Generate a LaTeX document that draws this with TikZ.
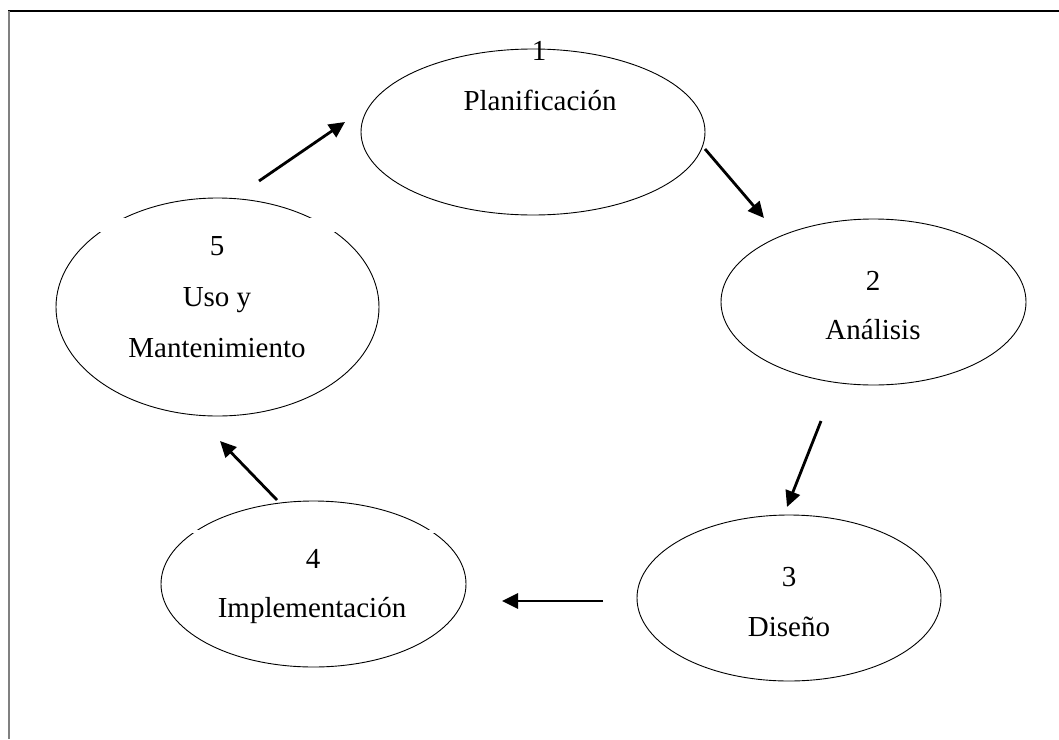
\documentclass[tikz,border=0pt]{standalone}
\usepackage{fontspec}
\setmainfont{Liberation Serif}
\usetikzlibrary{arrows.meta,shapes.geometric}
\begin{document}
\begin{tikzpicture}[x=1pt,y=-1pt,
  phase/.style={ellipse, draw, line width=0.9pt, inner sep=0pt},
  lbl/.style={anchor=base, font=\fontsize{29}{35}\selectfont, inner sep=0pt},
  flow/.style={line width=2.8pt, -{Triangle[length=16pt,width=15pt]}},
]
\useasboundingbox (0,0) rectangle (1059,739);
% frame
\draw[line width=1.3pt] (8,11) -- (1059,11);
\draw[gray, line width=2pt] (9,11) -- (9,739);
% phases
\node[phase, minimum width=344pt, minimum height=166pt] (e1) at (533,132) {};
\node[phase, minimum width=305pt, minimum height=166pt] (e2) at (873.5,302) {};
\node[phase, minimum width=304pt, minimum height=166pt] (e3) at (789,598) {};
\node[phase, minimum width=305pt, minimum height=166pt] (e4) at (313.5,584) {};
\node[phase, minimum width=323pt, minimum height=218pt] (e5) at (217.5,307) {};
% small breaks in outlines
\fill[white] (90,218) rectangle (345,232);
\fill[white] (185,529.5) rectangle (445,532.5);
% labels
\node[lbl] (n1) at (539,60) {1};
\node[lbl] (t1) at (540,110) {Planificación};
\node[lbl] (n2) at (873,290) {2};
\node[lbl] (t2) at (873,339) {Análisis};
\node[lbl] (n3) at (789,586) {3};
\node[lbl] (t3) at (789,636) {Diseño};
\node[lbl] (n4) at (313,568) {4};
\node[lbl] (t4) at (312,617) {Implementación};
\node[lbl] (n5) at (217,255) {5};
\node[lbl] (t5a) at (217,306) {Uso y};
\node[lbl] (t5b) at (217,357) {Mantenimiento};
% arrows
\coordinate (a1s) at (259,181); \coordinate (a1e) at (345,122);
\coordinate (a2s) at (705,149); \coordinate (a2e) at (764,218);
\coordinate (a3s) at (821,421); \coordinate (a3e) at (787,507);
\coordinate (a4s) at (603,601); \coordinate (a4e) at (502,601);
\coordinate (a5s) at (277,500); \coordinate (a5e) at (220,441);
\draw[flow] (a1s) -- (a1e);
\draw[flow] (a2s) -- (a2e);
\draw[flow] (a3s) -- (a3e);
\draw[flow] (a4s) -- (a4e);
\draw[flow] (a5s) -- (a5e);
\end{tikzpicture}
\end{document}
